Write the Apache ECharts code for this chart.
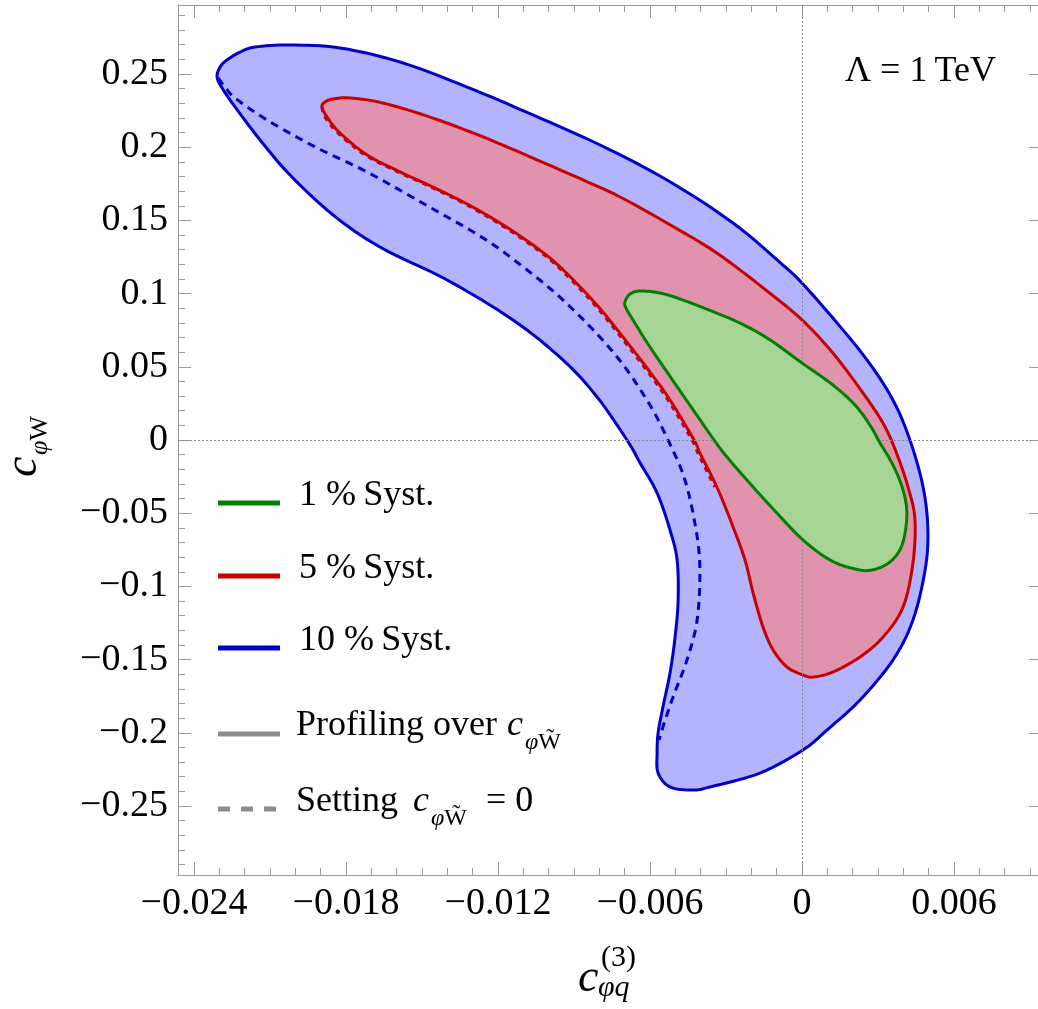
<!DOCTYPE html>
<html lang="en">
<head>
    <meta charset="UTF-8">
    <title>c_phiq vs c_phiW</title>
    <script src="https://cdn.jsdelivr.net/npm/echarts@6/dist/echarts.min.js"></script>
    <style>
        html, body { margin: 0; padding: 0; background: #fff; }
        #main { width: 1038px; height: 1009px; }
    </style>
</head>
<body>
<div id="main"></div>

<script>
    // axis ranges and ticks
    var xRange = [-0.024632, 0.009474];
    var yRange = [-0.29713, 0.29713];
    var xTickValues = [-0.024, -0.018, -0.012, -0.006, 0, 0.006];
    var yTickValues = [-0.25, -0.2, -0.15, -0.1, -0.05, 0, 0.05, 0.1, 0.15, 0.2, 0.25];

    // 10 % syst. contour (profiling over c_phiWtilde)
    var blueContour = [
        [-0.02309, 0.2480], [-0.02297, 0.2548], [-0.02270, 0.2596], [-0.02218, 0.2650],
        [-0.02159, 0.2684], [-0.02021, 0.2698], [-0.01824, 0.2678], [-0.01587, 0.2582],
        [-0.01322, 0.2411], [-0.01062, 0.2220], [-0.00797, 0.2015], [-0.00533, 0.1776],
        [-0.00272, 0.1482], [-0.00075, 0.1195], [0.00000, 0.1072], [0.00122, 0.0833],
        [0.00257, 0.0546], [0.00359, 0.0273], [0.00426, 0.0000], [0.00478, -0.0321],
        [0.00497, -0.0615], [0.00486, -0.0888], [0.00438, -0.1230], [0.00359, -0.1503],
        [0.00229, -0.1776], [0.00099, -0.1981], [0.00004, -0.2117], [-0.00166, -0.2275],
        [-0.00363, -0.2370], [-0.00430, -0.2391], [-0.00521, -0.2370], [-0.00568, -0.2275],
        [-0.00572, -0.2138], [-0.00568, -0.2001], [-0.00549, -0.1824], [-0.00521, -0.1592],
        [-0.00501, -0.1346], [-0.00489, -0.1093], [-0.00493, -0.0820], [-0.00521, -0.0615],
        [-0.00572, -0.0362], [-0.00639, -0.0157], [-0.00691, 0.0000],
        [-0.00809, 0.0294], [-0.00943, 0.0546], [-0.01141, 0.0820], [-0.01401, 0.1093],
        [-0.01666, 0.1318], [-0.01851, 0.1537], [-0.02021, 0.1810], [-0.02139, 0.2049],
        [-0.02238, 0.2275], [-0.02289, 0.2404]
    ];

    // 5 % syst. contour (profiling over c_phiWtilde)
    var redContour = [
        [-0.01895, 0.2275], [-0.01883, 0.2309], [-0.01851, 0.2329], [-0.01784, 0.2336],
        [-0.01654, 0.2302], [-0.01457, 0.2199], [-0.01259, 0.2070], [-0.01062, 0.1926],
        [-0.00864, 0.1776], [-0.00718, 0.1660], [-0.00533, 0.1482], [-0.00336, 0.1277],
        [-0.00138, 0.1018], [0.00000, 0.0820], [0.00122, 0.0594], [0.00241, 0.0321],
        [0.00324, 0.0102], [0.00379, -0.0116], [0.00422, -0.0342], [0.00446, -0.0546],
        [0.00438, -0.0840], [0.00399, -0.1141], [0.00320, -0.1346], [0.00229, -0.1482],
        [0.00122, -0.1585], [0.00043, -0.1619], [0.00004, -0.1605], [-0.00059, -0.1551],
        [-0.00114, -0.1434], [-0.00154, -0.1277], [-0.00193, -0.1045], [-0.00225, -0.0820],
        [-0.00272, -0.0594], [-0.00336, -0.0321], [-0.00403, -0.0089], [-0.00426, 0.0000],
        [-0.00521, 0.0273], [-0.00600, 0.0464], [-0.00707, 0.0704], [-0.00817, 0.0936],
        [-0.00955, 0.1182], [-0.01062, 0.1332], [-0.01192, 0.1482], [-0.01322, 0.1612],
        [-0.01457, 0.1728], [-0.01587, 0.1831], [-0.01717, 0.1947], [-0.01824, 0.2097],
        [-0.01875, 0.2206]
    ];

    // 1 % syst. contour (profiling over c_phiWtilde)
    var greenContour = [
        [-0.00699, 0.0943], [-0.00679, 0.0997], [-0.00639, 0.1018], [-0.00561, 0.1004],
        [-0.00470, 0.0956], [-0.00272, 0.0820], [-0.00138, 0.0697], [0.00000, 0.0526],
        [0.00122, 0.0376], [0.00209, 0.0239], [0.00268, 0.0102], [0.00308, -0.0020],
        [0.00359, -0.0171], [0.00399, -0.0342], [0.00414, -0.0512], [0.00395, -0.0717],
        [0.00347, -0.0833], [0.00276, -0.0888], [0.00209, -0.0881], [0.00111, -0.0820],
        [0.00004, -0.0683], [-0.00099, -0.0499], [-0.00193, -0.0321], [-0.00296, -0.0116],
        [-0.00347, 0.0000], [-0.00470, 0.0307], [-0.00600, 0.0635], [-0.00667, 0.0820],
        [-0.00695, 0.0902]
    ];

    // setting c_phiWtilde = 0
    var blueDashed = [
        [-0.02305, 0.2473], [-0.02274, 0.2404], [-0.02238, 0.2336], [-0.02112, 0.2186],
        [-0.01914, 0.1995], [-0.01717, 0.1831], [-0.01457, 0.1578], [-0.01271, 0.1393],
        [-0.01141, 0.1236], [-0.00943, 0.0956], [-0.00746, 0.0601], [-0.00612, 0.0273],
        [-0.00529, 0.0000], [-0.00462, -0.0273], [-0.00418, -0.0615], [-0.00403, -0.0888],
        [-0.00414, -0.1230], [-0.00454, -0.1503], [-0.00509, -0.1755], [-0.00549, -0.1960],
        [-0.00564, -0.2049]
    ];
    var redDashed = [
        [-0.01895, 0.2275], [-0.01883, 0.2206], [-0.01832, 0.2097], [-0.01725, 0.1947],
        [-0.01595, 0.1831], [-0.01465, 0.1728], [-0.01330, 0.1612], [-0.01200, 0.1482],
        [-0.01070, 0.1332], [-0.00963, 0.1182], [-0.00825, 0.0936], [-0.00715, 0.0704],
        [-0.00608, 0.0464], [-0.00529, 0.0273], [-0.00434, 0.0000], [-0.00411, -0.0089],
        [-0.00344, -0.0321]
    ];

    var serif = '"Liberation Serif", "DejaVu Serif", serif';
    var frameColor = '#9a9a9a';

    // minor ticks
    var xMinor = [], yMinor = [];
    for (var i = -24; i <= 9; i++) if (i % 6 !== 0) xMinor.push(i / 1000);
    for (var j = -29; j <= 29; j++) if (j % 5 !== 0) yMinor.push(j / 100);

    function fmt(v) {
        if (Math.abs(v) < 1e-12) return '0';
        return (v < 0 ? '\u2212' : '') + String(+Math.abs(v).toFixed(4));
    }

    function xAx(pos, ticks, len, labels) {
        return {
            type: 'value', position: pos, min: xRange[0], max: xRange[1],
            axisLine: {show: true, onZero: false, lineStyle: {color: frameColor, width: 1}},
            axisTick: {show: true, inside: true, length: len, customValues: ticks,
                lineStyle: {color: frameColor, width: 1}},
            axisLabel: labels ? {show: true, customValues: ticks, formatter: fmt, margin: 10,
                fontFamily: serif, fontSize: 38, color: '#000'} : {show: false},
            splitLine: {show: false}
        };
    }
    function yAx(pos, ticks, len, labels) {
        return {
            type: 'value', position: pos, min: yRange[0], max: yRange[1],
            axisLine: {show: true, onZero: false, lineStyle: {color: frameColor, width: 1}},
            axisTick: {show: true, inside: true, length: len, customValues: ticks,
                lineStyle: {color: frameColor, width: 1}},
            axisLabel: labels ? {show: true, customValues: ticks, formatter: fmt, margin: 10,
                fontFamily: serif, fontSize: 38, color: '#000'} : {show: false},
            splitLine: {show: false}
        };
    }

    // catmull-rom resampling in pixel space, only for drawing smooth outlines
    function smoothPts(p, closed) {
        var n = p.length, out = [], steps = 8;
        var segs = closed ? n : n - 1;
        function at(k) {
            if (closed) return p[(k + n) % n];
            return p[Math.max(0, Math.min(n - 1, k))];
        }
        for (var s = 0; s < segs; s++) {
            var p0 = at(s - 1), p1 = at(s), p2 = at(s + 1), p3 = at(s + 2);
            for (var t = 0; t < steps; t++) {
                var u = t / steps, u2 = u * u, u3 = u2 * u;
                out.push([0, 1].map(function (d) {
                    return 0.5 * ((2 * p1[d]) + (-p0[d] + p2[d]) * u +
                        (2 * p0[d] - 5 * p1[d] + 4 * p2[d] - p3[d]) * u2 +
                        (-p0[d] + 3 * p1[d] - 3 * p2[d] + p3[d]) * u3);
                }));
            }
        }
        if (!closed) out.push(p[n - 1]);
        return out;
    }

    function contour(name, pts, fill, stroke, z) {
        return {
            type: 'custom', name: name, z: z, silent: true,
            xAxisIndex: 0, yAxisIndex: 0,
            data: [pts[0]],
            renderItem: function (params, api) {
                var px = pts.map(function (p) { return api.coord(p); });
                return {
                    type: 'polygon',
                    shape: {points: smoothPts(px, true)},
                    style: {fill: fill, stroke: stroke, lineWidth: 3, lineJoin: 'round'}
                };
            }
        };
    }

    function dashed(name, pts, color, dash, z) {
        return {
            type: 'custom', name: name, z: z, silent: true,
            xAxisIndex: 0, yAxisIndex: 0,
            data: [pts[0]],
            renderItem: function (params, api) {
                var px = pts.map(function (p) { return api.coord(p); });
                return {
                    type: 'polyline',
                    shape: {points: smoothPts(px, false)},
                    style: {fill: null, stroke: color, lineWidth: 3, lineDash: dash}
                };
            }
        };
    }

    var txt = function (x, y, text, font, extra) {
        var s = {text: text, x: x, y: y, font: font, fill: '#000', align: 'left', verticalAlign: 'middle'};
        for (var k in extra) s[k] = extra[k];
        return {type: 'text', style: s};
    };
    // subscript with italic phi and upright W
    var subPhiW = function (x, y, size, tilde) {
        return {type: 'text', style: {
            x: x, y: y, align: 'left', verticalAlign: 'middle', fill: '#000',
            text: '{i|\u03c6}{r|W' + (tilde ? '\u0303' : '') + '}',
            rich: {
                i: {fontStyle: 'italic', fontSize: size, fontFamily: serif, fill: '#000'},
                r: {fontSize: size, fontFamily: serif, fill: '#000'}
            }
        }};
    };
    var legendLine = function (y, color, dash) {
        return {type: 'line', shape: {x1: 218, y1: y, x2: 280, y2: y},
            style: {stroke: color, lineWidth: 5, lineDash: dash || null}};
    };

    var f36 = '36px ' + serif;
    var f36i = 'italic 36px ' + serif;

    var myChart = echarts.init(document.getElementById('main'), null, {renderer: 'canvas'});
    var option = {
        animation: false,
        backgroundColor: '#fff',
        grid: {left: 178, top: 5, width: 864, height: 870, containLabel: false, outerBoundsMode: 'none'},
        xAxis: [
            xAx('bottom', xTickValues, 13, true),
            xAx('bottom', xMinor, 7, false),
            xAx('top', xTickValues, 13, false),
            xAx('top', xMinor, 7, false)
        ],
        yAxis: [
            yAx('left', yTickValues, 13, true),
            yAx('left', yMinor, 7, false),
            yAx('right', yTickValues, 13, false)
        ],
        series: [
            contour('10 % Syst.', blueContour, '#b3b3fe', '#0000c8', 1),
            dashed('10 % Syst. (c=0)', blueDashed, '#0000c8', [8, 6], 2),
            contour('5 % Syst.', redContour, '#e092ae', '#c80000', 3),
            dashed('5 % Syst. (c=0)', redDashed, '#c80000', [5, 5], 4),
            contour('1 % Syst.', greenContour, '#a7d494', '#008000', 5),
            {
                type: 'line', name: 'axes', z: 6, data: [], silent: true,
                markLine: {
                    silent: true, symbol: 'none', label: {show: false},
                    lineStyle: {color: '#8a8a8a', width: 1, type: [2, 2]},
                    data: [{xAxis: 0}, {yAxis: 0}]
                }
            }
        ],
        graphic: [
            // legend
            legendLine(503, '#008000'),
            legendLine(576, '#c80000'),
            legendLine(648, '#0000c8'),
            legendLine(734, '#8c8c8c'),
            legendLine(809, '#8c8c8c', [12, 11]),
            txt(299, 496, '1 %\u2009Syst.', f36),
            txt(299, 569, '5 %\u2009Syst.', f36),
            txt(299, 641, '10 %\u2009Syst.', f36),
            txt(296, 726, 'Profiling over', f36),
            txt(507, 726, 'c', f36i),
            subPhiW(525, 743, 24, true),
            txt(296, 802, 'Setting', f36),
            txt(413, 802, 'c', f36i),
            subPhiW(431, 819, 24, true),
            txt(486, 802, '= 0', f36),
            // annotation
            txt(845, 72, '\u039b = 1\u2009TeV', f36),
            // x axis title
            txt(578, 979, 'c', 'italic 46px ' + serif),
            txt(601, 958, '(3)', '30px ' + serif),
            txt(598, 988, '\u03c6q', 'italic 30px ' + serif),
            // y axis title
            {
                type: 'group', x: 38, y: 477, rotation: Math.PI / 2,
                children: [
                    txt(0, -14, 'c', 'italic 46px ' + serif),
                    subPhiW(22, 2, 26, false)
                ]
            }
        ]
    };
    myChart.setOption(option);
</script>
</body>
</html>
